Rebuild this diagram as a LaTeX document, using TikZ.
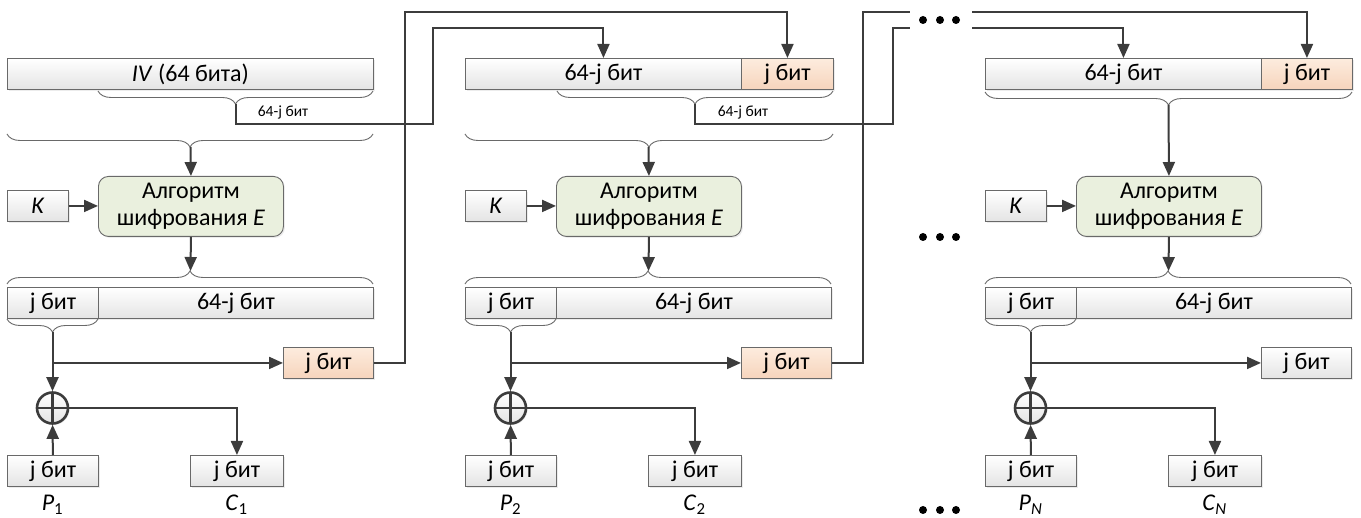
\documentclass[tikz,border=0pt]{standalone}
\usepackage{fontspec}
\setmainfont{Carlito}
\usetikzlibrary{arrows.meta,positioning,calc,decorations.pathreplacing,shadows}
\definecolor{linegrey}{RGB}{60,60,60}
\definecolor{boxedge}{RGB}{105,105,105}
\definecolor{cellgrey}{RGB}{228,228,228}
\definecolor{jtop}{RGB}{253,236,222}
\definecolor{jbot}{RGB}{246,212,188}
\definecolor{algfill}{RGB}{234,240,222}

\begin{document}
\begin{tikzpicture}[x=1pt,y=-1pt,
  every node/.style={font=\fontsize{24}{27}\selectfont},
  cell/.style={draw=boxedge,line width=0.9pt,top color=white,bottom color=cellgrey,
    inner sep=0pt,minimum height=31,anchor=north west,
    drop shadow={shadow xshift=1.5pt,shadow yshift=-1.5pt,opacity=0.15}},
  jcell/.style={cell,top color=jtop,bottom color=jbot},
  alg/.style={cell,top color=algfill,bottom color=algfill,rounded corners=10pt,
    minimum width=185,minimum height=60,align=center},
  xor/.style={circle,draw=linegrey,line width=2.6pt,top color=white,bottom color=cellgrey,
    minimum size=31,inner sep=0pt,drop shadow={shadow xshift=1.5pt,shadow yshift=-1.5pt,opacity=0.15},
    path picture={\draw[linegrey,line width=2.2pt]
      (path picture bounding box.north) -- (path picture bounding box.south)
      (path picture bounding box.west) -- (path picture bounding box.east);}},
  link/.style={draw=linegrey,line width=2pt},
  arr/.style={link,-{Triangle[length=14pt,width=12pt]}},
  brc/.style={draw=boxedge,line width=0.9pt,decorate,decoration={brace,amplitude=13pt}},
  small/.style={font=\fontsize{15.5}{18}\selectfont}]
  \useasboundingbox (0,0) rectangle (1361,518);

  \foreach \o/\c/\s/\f in {0/1/1/jcell,458/2/2/jcell,978/N/\textit{N}/cell}{
  \begin{scope}[shift={(\o,0)}]
    \node[cell,minimum width=61] (K\c) at (7,190) {\textit{K}};
    \node[alg] (alg\c) at (98,176) {Алгоритм\\шифрования \textit{E}};
    \node[cell,minimum width=91] (lo\c) at (7,287) {j бит};
    \node[cell,minimum width=275] (hi\c) at (98,287) {64-j бит};
    \node[\f,minimum width=90] (out\c) at (283,347) {j бит};
    \node[xor] (xor\c) at (52.5,408) {};
    \node[cell,minimum width=91] (P\c) at (7,455) {j бит};
    \node[cell,minimum width=93] (C\c) at (190,455) {j бит};
    \node (pl\c) at (52.5,505) {\textit{P}\textsubscript{\s}};
    \node (cl\c) at (236.5,505) {\textit{C}\textsubscript{\s}};
    \draw[brc] (7,284) -- (373,284);
    \draw[brc] (98,319) -- (7,319);
    \coordinate (bu\c) at (190.5,271);
    \coordinate (bd\c) at (52.5,332);
    \draw[arr] (K\c) -- (K\c -| alg\c.west);
    \draw[arr] (alg\c.south) -- (bu\c);
    \draw[arr] (bd\c) -- (xor\c);
    \draw[arr] (bd\c |- out\c.west) -- (out\c);
    \draw[arr] (P\c) -- (xor\c);
    \draw[arr] (xor\c) -| (C\c);
  \end{scope}
  }

  \node[cell,minimum width=366] (iv1) at (7,58) {\textit{IV} (64 бита)};
  \node[cell,minimum width=276] (top2) at (465,58) {64-j бит};
  \node[jcell,minimum width=92] (jt2) at (741,58) {j бит};
  \node[cell,minimum width=276] (topN) at (985,58) {64-j бит};
  \node[jcell,minimum width=91] (jtN) at (1261,58) {j бит};

  \draw[brc] (373,91) -- (98,91);
  \draw[brc] (373,134) -- (7,134);
  \draw[brc] (833,91) -- (557,91);
  \draw[brc] (833,134) -- (465,134);
  \draw[brc] (1352,92) -- (985,92);
  \coordinate (sb1) at (235.5,104); \coordinate (bb1) at (190.5,147);
  \coordinate (sb2) at (695,104); \coordinate (bb2) at (648.5,147);
  \coordinate (bbN) at (1168.5,105);
  \node[small] (w1) at (283,113) {64-j бит};
  \node[small] (w2) at (743,113) {64-j бит};

  \draw[arr] (bb1) -- (alg1.north);
  \draw[arr] (bb2) -- (alg2.north);
  \draw[arr] (bbN) -- (algN.north);

  \coordinate (up1) at (405,12); \coordinate (up2) at (433,28);
  \coordinate (up3) at (863,12); \coordinate (up4) at (893,28);
  \coordinate (gap1) at (910,12); \coordinate (gap2) at (910,28);
  \coordinate (gap3) at (972,12); \coordinate (gap4) at (972,28);
  \draw[arr] (out1) -| (up1) -| (jt2);
  \draw[arr] (sb1) -- ++(0,20) -| (up2) -| (top2);
  \draw[link] (out2) -| (up3) -- (gap1);
  \draw[link] (sb2) -- ++(0,20) -| (up4) -- (gap2);
  \draw[arr] (gap3) -| (jtN);
  \draw[arr] (gap4) -| (topN);

  \foreach \y in {20,237,510} \foreach \x in {923,940,956} \fill (\x,\y) circle (4);
\end{tikzpicture}
\end{document}
